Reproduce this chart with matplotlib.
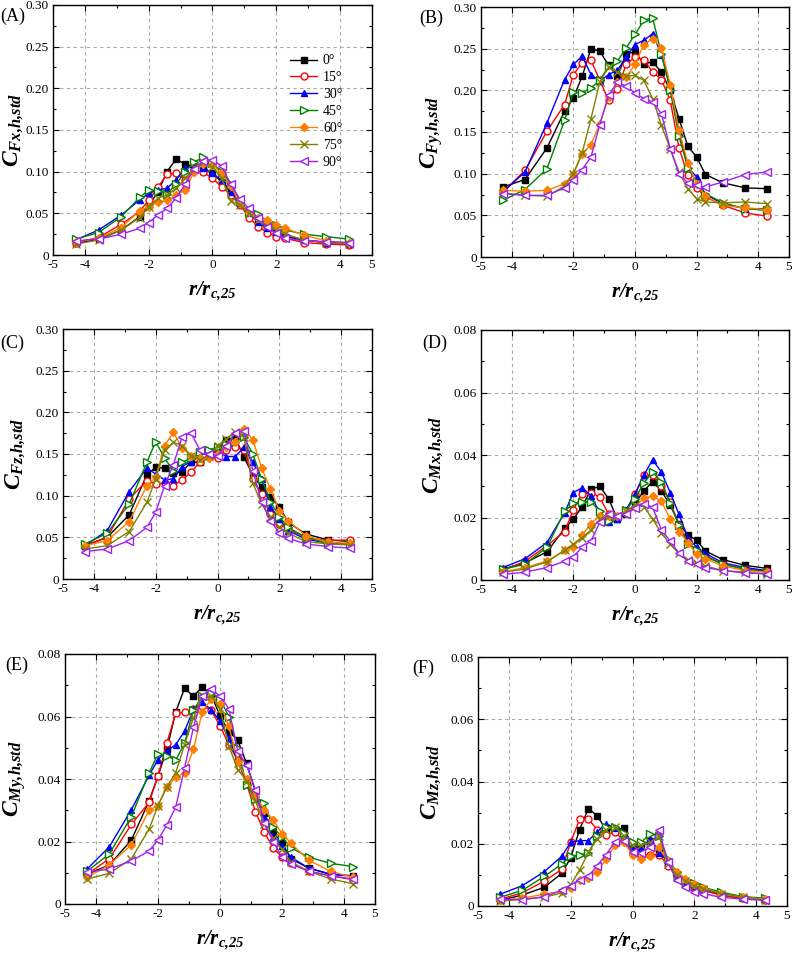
import numpy as np
import matplotlib
matplotlib.use("Agg")
from matplotlib import pyplot as plt
from matplotlib.ticker import FixedLocator, MultipleLocator

plt.rcParams['font.family'] = ['Liberation Serif', 'DejaVu Serif']
plt.rcParams['mathtext.fontset'] = 'custom'
plt.rcParams['mathtext.rm'] = 'Liberation Serif'
plt.rcParams['mathtext.it'] = 'Liberation Serif:italic'
plt.rcParams['mathtext.bf'] = 'Liberation Serif:bold'
plt.rcParams['mathtext.bfit'] = 'Liberation Serif:italic:bold'

# radial positions r/r_c,25
r = np.array([-30, -25, -20, -16, -14, -12, -10, -8, -6, -4, -2, 0,
              2, 4, 6, 8, 10, 12, 14, 16, 20, 25, 30]) / 7.0

angles = ['0°', '15°', '30°', '45°', '60°', '75°', '90°']

# (A) C_Fx,h,std
fx_0 = [.014, .019, .030, .046, .060, .075, .100, .115, .109, .106, .105, .098, .088, .075, .062, .050, .040, .032, .027, .022, .018, .015, .013]
fx_15 = [.015, .021, .037, .052, .066, .081, .097, .098, .090, .102, .099, .092, .082, .072, .060, .045, .034, .027, .022, .020, .015, .013, .012]
fx_30 = [.018, .030, .048, .066, .074, .078, .080, .090, .104, .106, .104, .098, .090, .076, .062, .050, .040, .032, .028, .024, .018, .015, .013]
fx_45 = [.019, .027, .046, .069, .078, .077, .073, .085, .100, .112, .117, .110, .100, .085, .065, .052, .049, .040, .036, .030, .025, .022, .019]
fx_60 = [.016, .020, .033, .053, .058, .063, .066, .072, .078, .100, .109, .108, .098, .083, .062, .052, .045, .042, .036, .032, .024, .017, .014]
fx_75 = [.013, .018, .030, .045, .058, .068, .072, .080, .092, .105, .112, .106, .092, .065, .060, .050, .042, .035, .030, .025, .018, .015, .013]
fx_90 = [.017, .019, .025, .032, .039, .048, .056, .068, .085, .103, .113, .114, .107, .085, .067, .056, .044, .034, .026, .020, .017, .016, .015]

# (B) C_Fy,h,std
fy_0 = [.084, .093, .131, .175, .191, .217, .250, .247, .230, .217, .244, .246, .232, .234, .222, .200, .166, .133, .120, .099, .089, .083, .082]
fy_15 = [.078, .104, .151, .183, .219, .233, .236, .212, .188, .202, .231, .240, .237, .222, .213, .188, .131, .098, .083, .072, .062, .053, .049]
fy_30 = [.078, .102, .161, .213, .231, .241, .219, .211, .219, .224, .240, .255, .260, .268, .243, .205, .150, .108, .096, .075, .064, .058, .058]
fy_45 = [.068, .081, .106, .164, .198, .197, .203, .212, .229, .235, .251, .267, .284, .287, .244, .200, .145, .107, .090, .076, .065, .058, .056]
fy_60 = [.080, .079, .080, .088, .100, .124, .135, .160, .192, .210, .216, .231, .255, .262, .251, .207, .152, .113, .088, .073, .062, .059, .057]
fy_75 = [.077, .074, .073, .085, .100, .125, .166, .210, .228, .222, .217, .218, .212, .190, .158, .130, .102, .082, .070, .066, .065, .066, .064]
fy_90 = [.076, .074, .074, .083, .093, .105, .120, .159, .194, .210, .205, .197, .190, .186, .172, .130, .100, .089, .086, .084, .090, .099, .102]

# (C) C_Fz,h,std
fz_0 = [.040, .050, .077, .125, .134, .133, .127, .129, .140, .140, .148, .155, .167, .170, .146, .125, .110, .098, .087, .068, .054, .047, .045]
fz_15 = [.040, .050, .096, .118, .114, .115, .112, .119, .128, .140, .146, .145, .155, .159, .155, .120, .102, .078, .066, .060, .050, .046, .047]
fz_30 = [.040, .058, .105, .133, .126, .119, .120, .135, .141, .148, .152, .153, .147, .147, .158, .140, .120, .087, .072, .058, .048, .043, .042]
fz_45 = [.042, .055, .090, .140, .165, .145, .130, .140, .145, .152, .155, .158, .162, .165, .170, .150, .120, .093, .075, .062, .050, .043, .042]
fz_60 = [.040, .046, .069, .112, .122, .160, .176, .157, .148, .145, .145, .150, .158, .165, .180, .167, .133, .108, .082, .070, .052, .044, .043]
fz_75 = [.036, .040, .057, .092, .120, .155, .164, .160, .148, .143, .148, .160, .168, .177, .170, .115, .090, .075, .062, .055, .045, .042, .041]
fz_90 = [.033, .036, .046, .062, .080, .112, .137, .171, .175, .155, .150, .148, .160, .175, .178, .130, .092, .070, .055, .049, .042, .039, .037]

# (D) C_Mx,h,std
mx_0 = [.0035, .0055, .0090, .0165, .0195, .0235, .0290, .0300, .0260, .0195, .0210, .0245, .0285, .0315, .0285, .0240, .0180, .0145, .0127, .0093, .0065, .0047, .0037]
mx_15 = [.0030, .0060, .0110, .0155, .0225, .0275, .0280, .0265, .0210, .0200, .0220, .0275, .0335, .0335, .0300, .0250, .0175, .0125, .0090, .0078, .0050, .0035, .0028]
mx_30 = [.0040, .0068, .0120, .0215, .0280, .0295, .0270, .0215, .0185, .0195, .0225, .0275, .0335, .0385, .0345, .0280, .0210, .0135, .0105, .0085, .0055, .0040, .0030]
mx_45 = [.0035, .0050, .0105, .0220, .0245, .0250, .0250, .0220, .0190, .0205, .0225, .0260, .0310, .0345, .0315, .0245, .0175, .0115, .0095, .0075, .0050, .0035, .0025]
mx_60 = [.0025, .0040, .0060, .0095, .0105, .0145, .0180, .0205, .0205, .0205, .0215, .0235, .0262, .0268, .0252, .0195, .0155, .0120, .0083, .0068, .0045, .0030, .0025]
mx_75 = [.0025, .0035, .0058, .0095, .0115, .0135, .0160, .0195, .0205, .0205, .0220, .0240, .0235, .0195, .0150, .0115, .0085, .0065, .0055, .0045, .0030, .0025, .0018]
mx_90 = [.0018, .0025, .0040, .0060, .0075, .0105, .0125, .0185, .0210, .0205, .0210, .0230, .0243, .0233, .0160, .0125, .0085, .0060, .0050, .0040, .0030, .0023, .0020]

# (E) C_My,h,std
my_0 = [.0095, .0125, .0205, .0330, .0410, .0495, .0615, .0690, .0665, .0695, .0670, .0602, .0552, .0525, .0450, .0360, .0290, .0230, .0195, .0145, .0115, .0095, .0090]
my_15 = [.0095, .0145, .0255, .0325, .0410, .0515, .0610, .0613, .0625, .0635, .0620, .0570, .0510, .0460, .0385, .0295, .0230, .0180, .0150, .0130, .0105, .0090, .0078]
my_30 = [.0112, .0183, .0302, .0412, .0462, .0490, .0510, .0553, .0623, .0645, .0622, .0585, .0530, .0455, .0395, .0340, .0280, .0215, .0185, .0150, .0115, .0095, .0090]
my_45 = [.0105, .0160, .0280, .0420, .0480, .0475, .0460, .0515, .0620, .0665, .0675, .0655, .0600, .0500, .0380, .0335, .0322, .0245, .0215, .0180, .0150, .0130, .0120]
my_60 = [.0085, .0125, .0190, .0300, .0315, .0375, .0405, .0420, .0495, .0615, .0655, .0640, .0570, .0455, .0400, .0345, .0302, .0270, .0225, .0195, .0140, .0105, .0085]
my_75 = [.0080, .0098, .0145, .0240, .0315, .0375, .0420, .0510, .0595, .0665, .0665, .0625, .0505, .0430, .0395, .0330, .0255, .0210, .0175, .0135, .0105, .0080, .0065]
my_90 = [.0102, .0112, .0138, .0170, .0205, .0253, .0310, .0435, .0565, .0665, .0688, .0665, .0625, .0490, .0445, .0365, .0260, .0200, .0150, .0128, .0105, .0090, .0080]

# (F) C_Mz,h,std
mz_0 = [.0018, .0035, .0060, .0105, .0155, .0245, .0313, .0290, .0245, .0245, .0250, .0195, .0190, .0210, .0180, .0140, .0090, .0075, .0065, .0055, .0035, .0025, .0020]
mz_15 = [.0022, .0042, .0080, .0118, .0205, .0278, .0280, .0245, .0228, .0238, .0210, .0168, .0165, .0165, .0165, .0130, .0095, .0075, .0060, .0050, .0035, .0025, .0020]
mz_30 = [.0038, .0065, .0110, .0160, .0205, .0210, .0210, .0238, .0265, .0250, .0235, .0190, .0185, .0215, .0170, .0145, .0095, .0075, .0065, .0055, .0040, .0030, .0022]
mz_45 = [.0028, .0050, .0095, .0135, .0160, .0165, .0170, .0225, .0255, .0255, .0235, .0205, .0205, .0232, .0225, .0150, .0110, .0085, .0075, .0060, .0045, .0030, .0025]
mz_60 = [.0018, .0025, .0038, .0048, .0058, .0085, .0090, .0110, .0150, .0195, .0205, .0165, .0150, .0162, .0188, .0145, .0110, .0088, .0070, .0058, .0040, .0028, .0022]
mz_75 = [.0015, .0022, .0028, .0042, .0068, .0115, .0172, .0215, .0245, .0255, .0225, .0195, .0195, .0205, .0225, .0135, .0100, .0080, .0065, .0055, .0040, .0028, .0020]
mz_90 = [.0022, .0020, .0030, .0050, .0065, .0085, .0095, .0130, .0165, .0205, .0210, .0175, .0170, .0190, .0245, .0140, .0085, .0060, .0045, .0040, .0028, .0022, .0018]

colors = ['black', '#FF0000', '#0000FF', '#008000', '#FF8000', '#808000', '#A020F0']
markers = ['s', 'o', '^', '>', 'D', 'x', '<']
filled = [True, False, True, False, True, True, False]
msizes = [4.5, 5, 5, 5.5, 4.5, 5.5, 5.5]

panels = [
    ('(A)', 'Fx', [fx_0, fx_15, fx_30, fx_45, fx_60, fx_75, fx_90], 0.30),
    ('(B)', 'Fy', [fy_0, fy_15, fy_30, fy_45, fy_60, fy_75, fy_90], 0.30),
    ('(C)', 'Fz', [fz_0, fz_15, fz_30, fz_45, fz_60, fz_75, fz_90], 0.30),
    ('(D)', 'Mx', [mx_0, mx_15, mx_30, mx_45, mx_60, mx_75, mx_90], 0.08),
    ('(E)', 'My', [my_0, my_15, my_30, my_45, my_60, my_75, my_90], 0.08),
    ('(F)', 'Mz', [mz_0, mz_15, mz_30, mz_45, mz_60, mz_75, mz_90], 0.08),
]

# axes boxes in pixels: left, right, top, bottom
boxes = [(53, 372, 5, 255), (481, 789, 7, 257),
         (63, 372, 329, 579), (481, 789, 330, 580),
         (65, 375, 654, 904), (478, 787, 657, 906)]
ylab_off = [28, 36, 36, 36, 37, 35]   # px from axes left to label edge
letter_pos = [(0, 16), (419, 18), (0, 343), (422, 343), (5, 665), (412, 668)]

W, H = 794, 960
fig = plt.figure(figsize=(W / 100, H / 100), dpi=100)

for k, (letter, name, series, ymax) in enumerate(panels):
    l, rr, t, b = boxes[k]
    ax = fig.add_axes([l / W, 1 - b / H, (rr - l) / W, (b - t) / H])
    for i, vals in enumerate(series):
        mfc = colors[i] if filled[i] else 'white'
        ax.plot(r, vals, color=colors[i], marker=markers[i], ms=msizes[i],
                mfc=mfc, mec=colors[i], mew=1.0, lw=1.0, label=angles[i],
                clip_on=False, zorder=3 + i * 0.1)
    ax.set_xlim(-5, 5)
    ax.set_ylim(0, ymax)
    ax.xaxis.set_major_locator(FixedLocator([-5, -4, -2, 0, 2, 4, 5]))
    ax.xaxis.set_minor_locator(FixedLocator([-3, -1, 1, 3]))
    if ymax > 0.1:
        ax.yaxis.set_major_locator(MultipleLocator(0.05))
        ax.yaxis.set_minor_locator(MultipleLocator(0.025))
    else:
        ax.yaxis.set_major_locator(MultipleLocator(0.02))
        ax.yaxis.set_minor_locator(MultipleLocator(0.01))
    ax.yaxis.set_major_formatter(plt.FuncFormatter(
        lambda v, p: '0' if abs(v) < 1e-9 else '%.2f' % v))
    ax.xaxis.set_major_formatter(plt.FuncFormatter(lambda v, p: '%d' % v))
    ax.tick_params(which='both', direction='in', top=True, right=True,
                   labelsize=9.5, width=0.8)
    ax.tick_params(which='major', length=4, pad=3)
    ax.tick_params(which='minor', length=2)
    ax.grid(True, which='major', color='#A8A8A8', ls=(0, (3, 3)), lw=0.8)
    for sp in ax.spines.values():
        sp.set_linewidth(1.0)
    ax.set_ylabel(r'$\mathbfit{C}_{\mathbfit{%s{,}h{,}std}}$' % name,
                  fontsize=17)
    ax.yaxis.set_label_coords(-ylab_off[k] / (rr - l), 0.5)
    ax.set_xlabel(r'$\mathbfit{r/r}_{\mathbfit{c{,}25}}$', fontsize=15,
                  labelpad=6)
    fig.text(letter_pos[k][0] / W, 1 - letter_pos[k][1] / H, letter,
             fontsize=13, va='center', ha='left')
    if k == 0:
        ax.legend(loc='upper left', bbox_to_anchor=(0.72, 0.83), frameon=False,
                  fontsize=10, handlelength=2.0, labelspacing=0.28,
                  borderpad=0, handletextpad=0.4)

fig.savefig('out.png', dpi=100)
